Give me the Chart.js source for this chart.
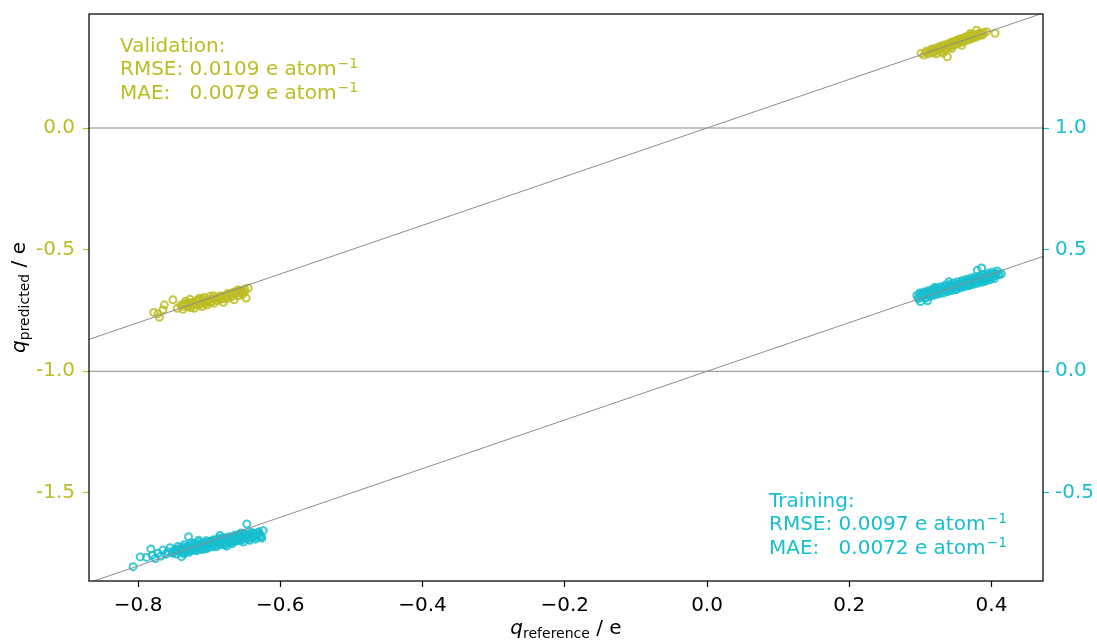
<!DOCTYPE html>
<html><head><meta charset="utf-8">
<script src="https://cdn.jsdelivr.net/npm/chart.js@4/dist/chart.umd.min.js"></script>
<style>html,body{margin:0;padding:0;background:#fff;}canvas{display:block}</style>
</head><body>
<canvas id="c" width="1097" height="642"></canvas>
<script>
const OLIVE = '#bcbd22';
const CYAN = '#17becf';

// ---- axis ranges & ticks ----
const xRange = [-0.869, 0.4724];
const yLeftRange = [-1.862, 0.4686];
const yRightRange = [-0.862, 1.4686];
const xTicks = [-0.8, -0.6, -0.4, -0.2, 0.0, 0.2, 0.4];
const xTickLabels = ['−0.8', '−0.6', '−0.4', '−0.2', '0.0', '0.2', '0.4'];
const yLeftTicks = [-1.5, -1.0, -0.5, 0.0];
const yLeftTickLabels = ['-1.5', '-1.0', '-0.5', '0.0'];
const yRightTicks = [-0.5, 0.0, 0.5, 1.0];
const yRightTickLabels = ['-0.5', '0.0', '0.5', '1.0'];

// reference lines
const diagX = [-0.869, 0.4724];
const hLineLeft = [0.0, -1.0];

// ---- validation (left axis) ----
const valAX = [-0.778,-0.772,-0.770,-0.765,-0.763,-0.751,-0.745,-0.740,-0.737,-0.735,-0.733,-0.731,-0.729,-0.727,-0.725,-0.723,-0.721,-0.719,-0.717,-0.716,-0.714,-0.712,-0.710,-0.709,-0.707,-0.705,-0.703,-0.701,-0.699,-0.697,-0.695,-0.693,-0.690,-0.688,-0.685,-0.683,-0.680,-0.677,-0.674,-0.671,-0.668,-0.665,-0.662,-0.659,-0.656,-0.653,-0.650,-0.648,-0.645,-0.660];
const valAY = [-0.758,-0.763,-0.778,-0.747,-0.727,-0.706,-0.741,-0.728,-0.745,-0.722,-0.712,-0.735,-0.724,-0.704,-0.731,-0.716,-0.741,-0.722,-0.708,-0.728,-0.700,-0.719,-0.734,-0.711,-0.697,-0.716,-0.728,-0.705,-0.692,-0.713,-0.701,-0.720,-0.697,-0.709,-0.691,-0.703,-0.716,-0.689,-0.700,-0.682,-0.694,-0.706,-0.674,-0.690,-0.671,-0.684,-0.662,-0.699,-0.658,-0.666];
const valAX2 = [-0.738,-0.734,-0.730,-0.726,-0.722,-0.718,-0.714,-0.710,-0.706,-0.702,-0.698,-0.694,-0.690,-0.686,-0.682,-0.678,-0.674,-0.670,-0.666,-0.662,-0.658,-0.654,-0.650];
const valAY2 = [-0.733,-0.726,-0.718,-0.739,-0.725,-0.712,-0.727,-0.702,-0.723,-0.711,-0.718,-0.690,-0.708,-0.700,-0.691,-0.702,-0.680,-0.688,-0.675,-0.681,-0.668,-0.676,-0.672];
const valBX = [0.301,0.305,0.308,0.311,0.314,0.316,0.318,0.320,0.322,0.324,0.326,0.328,0.330,0.332,0.334,0.336,0.338,0.339,0.341,0.343,0.345,0.347,0.349,0.351,0.353,0.355,0.357,0.359,0.361,0.363,0.365,0.367,0.369,0.371,0.373,0.375,0.377,0.379,0.381,0.383,0.386,0.389,0.393,0.405,0.344,0.329,0.358,0.370];
const valBY = [0.307,0.300,0.315,0.305,0.320,0.310,0.326,0.316,0.305,0.330,0.318,0.336,0.324,0.308,0.341,0.329,0.293,0.346,0.333,0.350,0.338,0.356,0.343,0.361,0.347,0.366,0.352,0.368,0.356,0.374,0.360,0.377,0.364,0.381,0.369,0.384,0.372,0.402,0.378,0.390,0.381,0.393,0.396,0.389,0.327,0.313,0.340,0.388];
const valBX2 = [0.310,0.315,0.319,0.323,0.327,0.331,0.335,0.340,0.344,0.348,0.352,0.356,0.360,0.364,0.368,0.372,0.376,0.380,0.384,0.388];
const valBY2 = [0.312,0.322,0.311,0.325,0.331,0.338,0.322,0.340,0.352,0.348,0.355,0.358,0.364,0.370,0.366,0.375,0.380,0.383,0.386,0.385];

// ---- training (right axis) ----
const trnAX = [-0.807,-0.797,-0.788,-0.782,-0.780,-0.776,-0.772,-0.768,-0.765,-0.761,-0.758,-0.755,-0.751,-0.748,-0.744,-0.741,-0.739,-0.737,-0.735,-0.733,-0.731,-0.729,-0.728,-0.726,-0.724,-0.722,-0.720,-0.718,-0.716,-0.714,-0.712,-0.710,-0.708,-0.706,-0.704,-0.702,-0.700,-0.698,-0.696,-0.694,-0.692,-0.690,-0.688,-0.686,-0.684,-0.682,-0.680,-0.678,-0.676,-0.674,-0.672,-0.670,-0.668,-0.666,-0.664,-0.662,-0.660,-0.658,-0.656,-0.654,-0.652,-0.650,-0.648,-0.647,-0.645,-0.643,-0.641,-0.639,-0.637,-0.635,-0.633,-0.630,-0.628,-0.626,-0.624,-0.735,-0.745,-0.705,-0.695,-0.675,-0.665,-0.655,-0.715,-0.725,-0.685];
const trnAY = [-0.803,-0.763,-0.765,-0.730,-0.756,-0.770,-0.748,-0.760,-0.735,-0.752,-0.742,-0.725,-0.748,-0.733,-0.720,-0.741,-0.762,-0.728,-0.713,-0.737,-0.724,-0.680,-0.744,-0.719,-0.731,-0.709,-0.725,-0.738,-0.714,-0.702,-0.722,-0.733,-0.708,-0.718,-0.697,-0.727,-0.712,-0.700,-0.719,-0.692,-0.708,-0.721,-0.697,-0.686,-0.710,-0.699,-0.683,-0.714,-0.692,-0.703,-0.680,-0.696,-0.709,-0.685,-0.674,-0.698,-0.688,-0.670,-0.693,-0.680,-0.702,-0.666,-0.685,-0.628,-0.674,-0.695,-0.662,-0.681,-0.668,-0.690,-0.673,-0.660,-0.679,-0.686,-0.655,-0.750,-0.737,-0.730,-0.705,-0.718,-0.700,-0.665,-0.695,-0.705,-0.675];
const trnAX2 = [-0.752,-0.749,-0.746,-0.743,-0.740,-0.738,-0.736,-0.734,-0.732,-0.730,-0.727,-0.725,-0.723,-0.721,-0.719,-0.717,-0.715,-0.713,-0.711,-0.709,-0.707,-0.705,-0.703,-0.701,-0.699,-0.697,-0.695,-0.693,-0.691,-0.689,-0.687,-0.685,-0.683,-0.681,-0.679,-0.677,-0.675,-0.673,-0.671,-0.669,-0.667,-0.665,-0.663,-0.661,-0.659,-0.657,-0.655,-0.653,-0.651,-0.649,-0.646,-0.644,-0.642,-0.640,-0.638,-0.636,-0.634,-0.632,-0.629,-0.627];
const trnAY2 = [-0.744,-0.738,-0.751,-0.729,-0.735,-0.746,-0.722,-0.731,-0.740,-0.719,-0.728,-0.737,-0.716,-0.725,-0.733,-0.712,-0.721,-0.729,-0.709,-0.716,-0.726,-0.704,-0.713,-0.722,-0.700,-0.709,-0.718,-0.697,-0.706,-0.714,-0.693,-0.702,-0.711,-0.690,-0.698,-0.707,-0.686,-0.694,-0.703,-0.682,-0.691,-0.699,-0.679,-0.687,-0.696,-0.676,-0.684,-0.692,-0.672,-0.680,-0.689,-0.669,-0.677,-0.685,-0.666,-0.674,-0.682,-0.664,-0.671,-0.680];
const trnBX = [0.295,0.297,0.299,0.301,0.303,0.305,0.307,0.309,0.311,0.313,0.315,0.317,0.319,0.321,0.323,0.325,0.327,0.329,0.331,0.333,0.335,0.337,0.339,0.341,0.343,0.345,0.347,0.349,0.351,0.353,0.355,0.357,0.359,0.361,0.363,0.365,0.367,0.369,0.371,0.373,0.375,0.377,0.379,0.381,0.383,0.385,0.387,0.389,0.391,0.393,0.395,0.397,0.399,0.401,0.403,0.405,0.408,0.411,0.414,0.386,0.380,0.340,0.320,0.310,0.350,0.370,0.390,0.300];
const trnBY = [0.312,0.298,0.322,0.305,0.316,0.326,0.300,0.319,0.331,0.312,0.325,0.337,0.318,0.330,0.343,0.324,0.336,0.348,0.329,0.341,0.354,0.334,0.346,0.358,0.339,0.351,0.363,0.345,0.357,0.368,0.349,0.361,0.373,0.354,0.366,0.378,0.359,0.371,0.383,0.364,0.376,0.388,0.369,0.381,0.392,0.374,0.386,0.397,0.379,0.391,0.403,0.384,0.396,0.407,0.390,0.400,0.412,0.398,0.401,0.425,0.415,0.368,0.344,0.290,0.335,0.355,0.370,0.287];
const trnBX2 = [0.298,0.300,0.302,0.304,0.306,0.308,0.310,0.312,0.314,0.316,0.318,0.320,0.322,0.324,0.326,0.328,0.330,0.332,0.334,0.336,0.338,0.340,0.342,0.344,0.346,0.348,0.350,0.352,0.354,0.356,0.358,0.360,0.362,0.364,0.366,0.368,0.370,0.372,0.374,0.376,0.378,0.380,0.382,0.384,0.386,0.388,0.390,0.392,0.394,0.396,0.398,0.400,0.402,0.404,0.406,0.409];
const trnBY2 = [0.306,0.318,0.310,0.322,0.313,0.304,0.325,0.316,0.308,0.330,0.321,0.313,0.334,0.326,0.318,0.339,0.331,0.322,0.344,0.336,0.327,0.349,0.340,0.332,0.354,0.345,0.337,0.359,0.350,0.342,0.364,0.355,0.347,0.369,0.360,0.352,0.374,0.365,0.357,0.379,0.370,0.362,0.384,0.375,0.366,0.389,0.380,0.371,0.394,0.385,0.376,0.398,0.389,0.381,0.403,0.396];

const pts = (xs, ys) => xs.map((x, i) => ({x, y: ys[i]}));
const alpha = (hex, a) => {
  const n = parseInt(hex.slice(1), 16);
  return `rgba(${(n>>16)&255},${(n>>8)&255},${n&255},${a})`;
};

const FONT = '"DejaVu Sans", "Liberation Sans", sans-serif';

function scatterDS(xs, ys, color, axis) {
  return {
    type: 'scatter', data: pts(xs, ys), yAxisID: axis,
    pointStyle: 'circle', pointRadius: 3.5, pointBorderWidth: 2,
    pointBackgroundColor: 'rgba(0,0,0,0)', pointBorderColor: alpha(color, 0.85),
    borderColor: alpha(color, 0.85), backgroundColor: 'rgba(0,0,0,0)',
    showLine: false, order: 2
  };
}
function lineDS(xs, ys, axis) {
  return {
    type: 'line', data: pts(xs, ys), yAxisID: axis,
    borderColor: '#8c8c8c', borderWidth: 1, pointRadius: 0,
    fill: false, tension: 0, order: 1
  };
}

const frameAndText = {
  id: 'frameAndText',
  afterDraw(chart) {
    const ctx = chart.ctx, a = chart.chartArea;
    ctx.save();
    ctx.strokeStyle = '#000'; ctx.lineWidth = 1.25;
    ctx.strokeRect(a.left, a.top, a.right - a.left, a.bottom - a.top);

    function block(x, y0, title, rmse, mae, color) {
      ctx.fillStyle = color; ctx.textAlign = 'left'; ctx.textBaseline = 'alphabetic';
      ctx.font = '20px ' + FONT;
      ctx.fillText(title, x, y0);
      const lh = 23.3;
      const labW = ctx.measureText('RMSE: ').width;
      const rows = [['RMSE:', rmse], ['MAE:', mae]];
      rows.forEach((r, i) => {
        const y = y0 + lh * (i + 1);
        ctx.font = '20px ' + FONT;
        ctx.fillText(r[0], x, y);
        const main = r[1] + ' e atom';
        ctx.fillText(main, x + labW, y);
        const w = ctx.measureText(main).width;
        ctx.font = '14px ' + FONT;
        ctx.fillText('−1', x + labW + w + 1, y - 7);
      });
    }
    block(120, 52, 'Validation:', '0.0109', '0.0079', OLIVE);
    block(769, 507, 'Training:', '0.0097', '0.0072', CYAN);

    function label(sub) {
      ctx.font = 'italic 20px ' + FONT; const wq = ctx.measureText('q').width;
      ctx.font = '14px ' + FONT; const ws = ctx.measureText(sub).width;
      ctx.font = '20px ' + FONT; const we = ctx.measureText(' / e').width;
      const W = wq + ws + we;
      let x = -W / 2;
      ctx.fillStyle = '#000'; ctx.textAlign = 'left'; ctx.textBaseline = 'alphabetic';
      ctx.font = 'italic 20px ' + FONT; ctx.fillText('q', x, 0); x += wq;
      ctx.font = '14px ' + FONT; ctx.fillText(sub, x, 4); x += ws;
      ctx.font = '20px ' + FONT; ctx.fillText(' / e', x, 0);
    }
    ctx.save();
    ctx.translate((a.left + a.right) / 2, 634);
    label('reference');
    ctx.restore();
    ctx.save();
    ctx.translate(25, (a.top + a.bottom) / 2);
    ctx.rotate(-Math.PI / 2);
    label('predicted');
    ctx.restore();
    ctx.restore();
  }
};

function fixedTicks(vals) {
  return s => { s.ticks = vals.map(v => ({value: v})); };
}

new Chart(document.getElementById('c'), {
  data: {
    datasets: [
      scatterDS(valAX.concat(valAX2), valAY.concat(valAY2), OLIVE, 'y'),
      scatterDS(valBX.concat(valBX2), valBY.concat(valBY2), OLIVE, 'y'),
      scatterDS(trnAX.concat(trnAX2), trnAY.concat(trnAY2), CYAN, 'y2'),
      scatterDS(trnBX.concat(trnBX2), trnBY.concat(trnBY2), CYAN, 'y2'),
      lineDS(diagX, diagX, 'y'),
      lineDS(diagX, diagX, 'y2'),
      lineDS(diagX, [hLineLeft[0], hLineLeft[0]], 'y'),
      lineDS(diagX, [hLineLeft[1], hLineLeft[1]], 'y')
    ]
  },
  options: {
    responsive: false, animation: false, devicePixelRatio: 1,
    layout: {padding: {top: 14, left: 0, right: 0, bottom: 0}},
    plugins: {legend: {display: false}, tooltip: {enabled: false}},
    scales: {
      x: {
        type: 'linear', position: 'bottom', min: xRange[0], max: xRange[1],
        afterBuildTicks: fixedTicks(xTicks),
        afterFit(s) { s.height = 61; s.paddingLeft = 0; s.paddingRight = 0; },
        ticks: {color: '#000', font: {size: 20, family: FONT}, padding: 7, maxRotation: 0, autoSkip: false,
          callback: (v, i) => xTickLabels[i]},
        grid: {drawOnChartArea: false, drawTicks: true, tickLength: 6, tickColor: '#000', tickWidth: 1.2},
        border: {display: false}
      },
      y: {
        type: 'linear', position: 'left', min: yLeftRange[0], max: yLeftRange[1],
        afterBuildTicks: fixedTicks(yLeftTicks),
        afterFit(s) { s.width = 89; s.paddingTop = 0; s.paddingBottom = 0; },
        ticks: {color: OLIVE, font: {size: 20, family: FONT}, padding: 8, autoSkip: false,
          callback: (v, i) => yLeftTickLabels[i]},
        grid: {drawOnChartArea: false, drawTicks: true, tickLength: 6, tickColor: OLIVE, tickWidth: 1.2},
        border: {display: false}
      },
      y2: {
        type: 'linear', position: 'right', min: yRightRange[0], max: yRightRange[1],
        afterBuildTicks: fixedTicks(yRightTicks),
        afterFit(s) { s.width = 54; s.paddingTop = 0; s.paddingBottom = 0; },
        ticks: {color: CYAN, font: {size: 20, family: FONT}, padding: 6, autoSkip: false,
          callback: (v, i) => yRightTickLabels[i]},
        grid: {drawOnChartArea: false, drawTicks: true, tickLength: 6, tickColor: CYAN, tickWidth: 1.2},
        border: {display: false}
      }
    }
  },
  plugins: [frameAndText]
});
</script>
</body></html>
